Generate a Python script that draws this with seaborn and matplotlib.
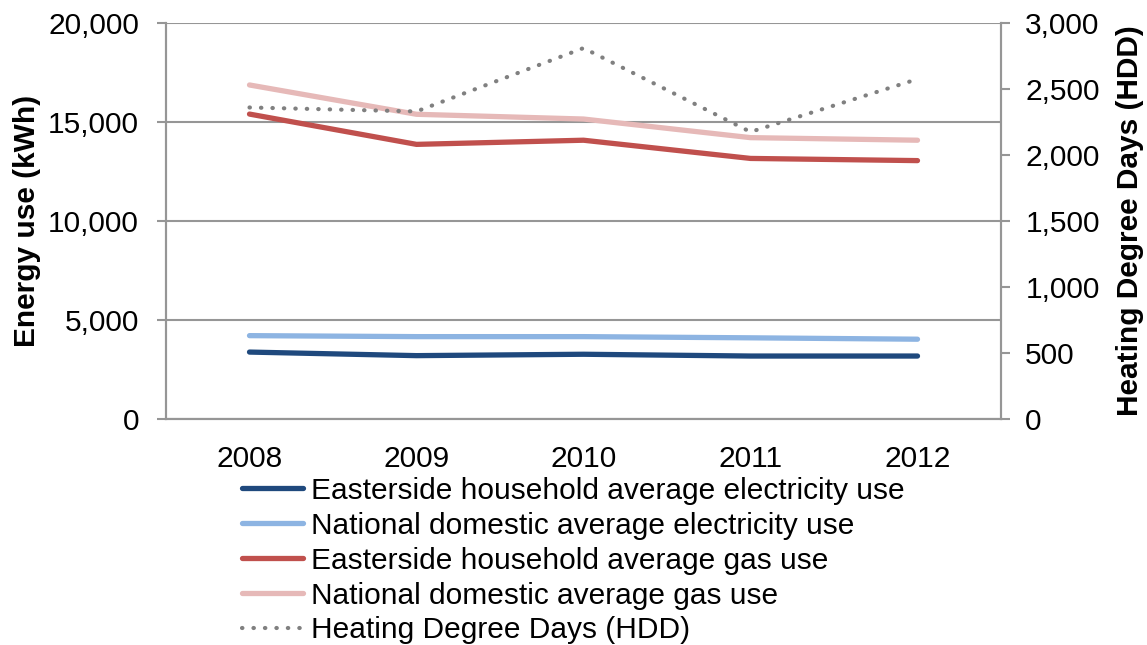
import matplotlib
matplotlib.use("Agg")
import matplotlib.pyplot as plt
import seaborn as sns
import pandas as pd
from matplotlib.ticker import FuncFormatter, MultipleLocator, FixedLocator

years = ["2008", "2009", "2010", "2011", "2012"]
easterside_elec = [3380, 3200, 3270, 3180, 3180]
national_elec = [4210, 4160, 4160, 4100, 4030]
easterside_gas = [15400, 13870, 14080, 13160, 13050]
national_gas = [16870, 15390, 15150, 14210, 14080]
hdd = [2360, 2330, 2810, 2175, 2575]

labels = [
    "Easterside household average electricity use",
    "National domestic average electricity use",
    "Easterside household average gas use",
    "National domestic average gas use",
]
colors = ["#1F497D", "#8DB4E2", "#C0504D", "#E6B9B8"]
hdd_label = "Heating Degree Days (HDD)"

sns.set_style("white")
plt.rcParams["font.family"] = ["Liberation Sans", "DejaVu Sans"]
plt.rcParams["text.color"] = "black"
plt.rcParams["axes.labelcolor"] = "black"
plt.rcParams["xtick.color"] = "black"
plt.rcParams["ytick.color"] = "black"

FS = 21.5
fig = plt.figure(figsize=(11.47, 6.45), dpi=100)
W, H = 1147, 645
ax = fig.add_axes([166 / W, 1 - 419 / H, (1001 - 166) / W, (419 - 23) / H])
ax2 = ax.twinx()

x = list(range(len(years)))
series = [easterside_elec, national_elec, easterside_gas, national_gas]
handles = []
for vals, lab, col in zip(series, labels, colors):
    df = pd.DataFrame({"x": x, "y": vals})
    sns.lineplot(data=df, x="x", y="y", ax=ax, color=col, lw=3.8,
                 solid_capstyle="round", label=lab, legend=False)
    handles.append(ax.lines[-1])

df_h = pd.DataFrame({"x": x, "y": hdd})
sns.lineplot(data=df_h, x="x", y="y", ax=ax2, color="#808080", lw=3.0,
             linestyle=(0, (0.1, 2.65)), dash_capstyle="round",
             label=hdd_label, legend=False)
handles.append(ax2.lines[-1])

grey = "#969696"
ax.set_xlim(-0.5, 4.5)
ax.set_ylim(0, 20000)
ax2.set_ylim(0, 3000)
ax.yaxis.set_major_locator(MultipleLocator(5000))
ax2.yaxis.set_major_locator(MultipleLocator(500))
fmt = FuncFormatter(lambda v, p: f"{int(v):,}")
ax.yaxis.set_major_formatter(fmt)
ax2.yaxis.set_major_formatter(fmt)

ax.set_xticks(x)
ax.set_xticklabels(years)
ax.xaxis.set_minor_locator(FixedLocator([i - 0.5 for i in range(len(years) + 1)]))
ax.tick_params(axis="x", which="major", length=0, pad=19, labelsize=FS)
ax.tick_params(axis="x", which="minor", length=6, width=1.5, color=grey, direction="out")
ax.tick_params(axis="y", length=6.5, width=1.5, color=grey, labelsize=FS, left=True, pad=13)
ax2.tick_params(axis="y", length=6.5, width=1.5, color=grey, labelsize=FS, right=True, pad=11)

ax.grid(axis="y", color=grey, lw=1.5)
ax.set_axisbelow(True)
for a in (ax, ax2):
    for s in a.spines.values():
        s.set_color(grey)
        s.set_linewidth(1.5)
    a.spines["top"].set_visible(False)

ax.set_xlabel("")
ax.set_ylabel("Energy use (kWh)", fontsize=FS, fontweight="bold", labelpad=5)
ax2.set_ylabel("Heating Degree Days (HDD)", fontsize=FS, fontweight="bold", labelpad=12)

fig.legend(handles=handles, labels=labels + [hdd_label], loc="upper left",
           bbox_to_anchor=(230 / W, 1 - 465 / H), frameon=False, fontsize=FS,
           handlelength=2.05, handletextpad=0.25, labelspacing=0.23, borderaxespad=0)

fig.savefig("out.png", dpi=100, facecolor="white")
